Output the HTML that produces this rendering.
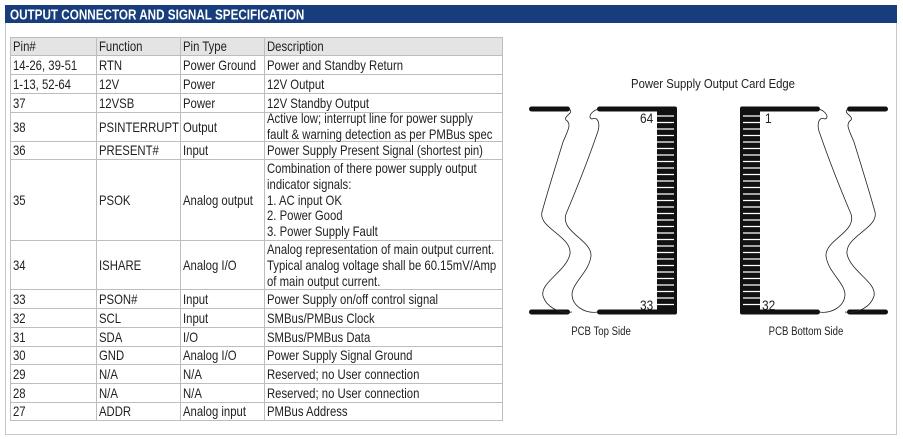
<!DOCTYPE html>
<html><head><meta charset="utf-8"><style>
body{margin:0;background:#fff;}
svg{display:block;}
text{font-family:"Liberation Sans",sans-serif;font-size:13.5px;fill:#222;}
</style></head><body>
<svg width="903" height="439" viewBox="0 0 903 439" xmlns="http://www.w3.org/2000/svg">
<rect x="5.5" y="5.5" width="891" height="429" fill="#fff" stroke="#c8c8c8"/>
<rect x="5" y="5" width="892" height="18" fill="#183d7c"/>
<text transform="translate(10,19.5) scale(0.78,1)" style="font-size:15px;font-weight:bold;fill:#fff">OUTPUT CONNECTOR AND SIGNAL SPECIFICATION</text>
<rect x="10" y="37" width="492" height="18" fill="#e4e4e4"/>
<g stroke="#bdbdbd" stroke-width="1" fill="none">
<rect x="10.5" y="37.5" width="492" height="383"/>
<path d="M96.5 37V421M180.5 37V421M264.5 37V421"/>
<path d="M10 55.5H502M10 74.5H502M10 93.5H502M10 112.5H502M10 141.5H502M10 159.5H502M10 240.5H502M10 289.5H502M10 308.5H502M10 327.5H502M10 346.5H502M10 364.5H502M10 383.5H502M10 402.5H502"/>
</g>
<g transform="translate(13,0) scale(0.84,1)">
<text y="51">Pin#</text><text y="70">14-26, 39-51</text><text y="89">1-13, 52-64</text><text y="108">37</text><text y="132">38</text><text y="155">36</text><text y="205">35</text><text y="270">34</text><text y="304">33</text><text y="323">32</text><text y="342">31</text><text y="360">30</text><text y="379">29</text><text y="398">28</text><text y="416">27</text>
</g>
<g transform="translate(99,0) scale(0.84,1)">
<text y="51">Function</text><text y="70">RTN</text><text y="89">12V</text><text y="108">12VSB</text><text y="132">PSINTERRUPT</text><text y="155">PRESENT#</text><text y="205">PSOK</text><text y="270">ISHARE</text><text y="304">PSON#</text><text y="323">SCL</text><text y="342">SDA</text><text y="360">GND</text><text y="379">N/A</text><text y="398">N/A</text><text y="416">ADDR</text>
</g>
<g transform="translate(183,0) scale(0.84,1)">
<text y="51">Pin Type</text><text y="70">Power Ground</text><text y="89">Power</text><text y="108">Power</text><text y="132">Output</text><text y="155">Input</text><text y="205">Analog output</text><text y="270">Analog I/O</text><text y="304">Input</text><text y="323">Input</text><text y="342">I/O</text><text y="360">Analog I/O</text><text y="379">N/A</text><text y="398">N/A</text><text y="416">Analog input</text>
</g>
<g transform="translate(267,0) scale(0.84,1)">
<text y="51">Description</text><text y="70">Power and Standby Return</text><text y="89">12V Output</text><text y="108">12V Standby Output</text>
<text y="123">Active low; interrupt line for power supply</text><text y="139">fault &amp; warning detection as per PMBus spec</text>
<text y="155">Power Supply Present Signal (shortest pin)</text>
<text y="173">Combination of there power supply output</text><text y="189">indicator signals:</text><text y="205">1.  AC input OK</text><text y="220">2.  Power Good</text><text y="236">3.  Power Supply Fault</text>
<text y="254">Analog representation of main output current.</text><text y="270">Typical analog voltage shall be 60.15mV/Amp</text><text y="286">of main output current.</text>
<text y="304">Power Supply on/off control signal</text><text y="323">SMBus/PMBus Clock</text><text y="342">SMBus/PMBus Data</text><text y="360">Power Supply Signal Ground</text><text y="379">Reserved; no User connection</text><text y="398">Reserved; no User connection</text><text y="416">PMBus Address</text>
</g>
<text transform="translate(713,88) scale(0.87,1)" text-anchor="middle" style="font-size:13px">Power Supply Output Card Edge</text>
<defs>
<g id="card">
<rect x="529" y="106.5" width="41" height="5" rx="2.5" fill="#111"/>
<rect x="529" y="309.5" width="41" height="5" rx="2.5" fill="#111"/>
<rect x="597" y="106.5" width="79" height="5" rx="2.5" fill="#111"/>
<rect x="597" y="309.5" width="79" height="5" rx="2.5" fill="#111"/>
<rect x="657" y="106.5" width="20" height="208" rx="2" fill="#111"/>
<g stroke="#fff" stroke-width="1.2">
<path d="M657 116H674M657 122.5H674M657 129H674M657 135.5H674M657 142H674M657 148.5H674M657 155H674M657 161.5H674M657 168H674M657 174.5H674M657 181H674M657 187.5H674M657 194H674M657 200.5H674M657 207H674M657 213.5H674M657 220H674M657 226.5H674M657 233H674M657 239.5H674M657 246H674M657 252.5H674M657 259H674M657 265.5H674M657 272H674M657 278.5H674M657 285H674M657 291.5H674M657 298H674M657 304.5H674"/>
</g>
<g fill="none" stroke="#222" stroke-width="0.8">
<path d="M569 109C575 113 563 116 566 120C572 124 568 130 563 142C556 165 548 190 542 212C538 228 572 236 570 254C566 272 540 282 543 296C546 306 558 314 572 312"/>
<path d="M598 109C590 112 588 118 592 119C598 116 601 124 597 134C588 160 577 188 566 214C560 232 592 240 591 256C589 272 573 282 572 294C572 306 585 314 598 312"/>
</g>
</g>
</defs>
<use href="#card"/>
<use href="#card" transform="translate(1417,0) scale(-1,1)"/>
<text transform="translate(640,123) scale(0.88,1)">64</text>
<text transform="translate(640,310) scale(0.88,1)">33</text>
<text transform="translate(765,123) scale(0.88,1)">1</text>
<text transform="translate(762,310) scale(0.88,1)">32</text>
<text transform="translate(601,335) scale(0.8,1)" text-anchor="middle" style="font-size:12px">PCB Top Side</text>
<text transform="translate(806,335) scale(0.8,1)" text-anchor="middle" style="font-size:12px">PCB Bottom Side</text>
</svg>
</body></html>
